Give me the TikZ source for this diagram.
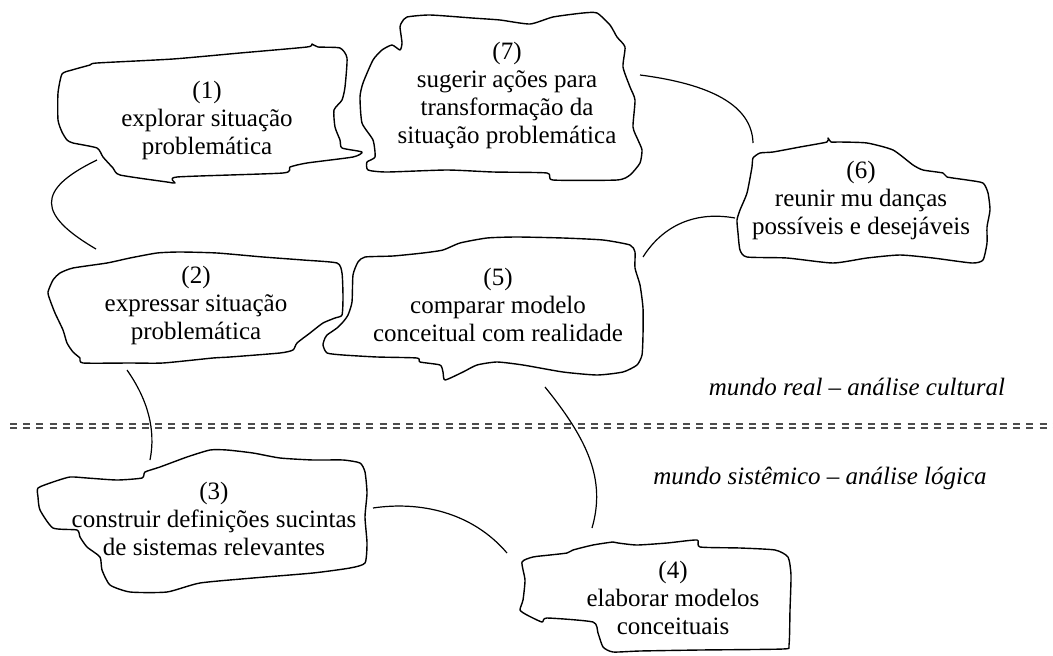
\documentclass[tikz,border=0pt]{standalone}
\usepackage{fontspec}
\setmainfont{Liberation Serif}
\begin{document}
\begin{tikzpicture}[x=1pt,y=-1pt,
  blob/.style={line width=1.4pt, line join=round, black},
  link/.style={line width=1.2pt, black},
  lbl/.style={align=center, font=\fontsize{25}{28}\selectfont, inner sep=0pt},
  world/.style={font=\fontsize{25}{30}\selectfont\itshape, inner sep=0pt},
  sepline/.style={line width=1.6pt, black!70, dash pattern=on 7pt off 6.2pt}]
\useasboundingbox (0,0) rectangle (1053,656);

% ---- blob outlines ----
% (1)
\draw[blob] plot[smooth cycle, tension=0.35] coordinates {
 (62,74) (72,70) (90,65) (97,63) (173,59) (240,53) (307,47) (312,44) (318,47)
 (340,48) (347,58) (345,87) (342,100) (334,110) (335,127) (340,140) (342,148)
 (362,152) (353,157) (307,163) (290,167) (283,173) (177,177) (175,183) (167,182)
 (120,175) (113,168) (103,157) (97,148) (73,143) (67,140) (62,132) (58,120) (58,93)};
% (7)
\draw[blob] plot[smooth cycle, tension=0.35] coordinates {
 (402,22) (407,17) (430,15) (472,18) (500,20) (530,24) (553,17) (583,13) (597,13)
 (610,25) (617,37) (625,47) (623,67) (630,87) (635,100) (633,127) (638,140)
 (642,150) (640,163) (630,175) (617,180) (553,180) (547,173) (493,172) (447,170)
 (387,172) (368,170) (367,162) (375,157) (373,140) (362,123) (360,97) (363,83)
 (373,60) (382,50) (392,45) (400,50) (402,43) (400,27)};
% (6)
\draw[blob] plot[smooth cycle, tension=0.35] coordinates {
 (753,158) (760,153) (773,152) (800,147) (827,142) (828,138) (831,142) (840,142)
 (867,143) (893,150) (913,165) (923,170) (943,173) (947,177) (967,180) (983,183)
 (988,193) (990,210) (987,227) (987,243) (983,260) (972,263) (933,258) (900,255)
 (867,258) (833,263) (787,258) (747,257) (740,250) (738,233) (737,220) (740,210)
 (747,193) (752,167)};
% (2)
\draw[blob] plot[smooth cycle, tension=0.35] coordinates {
 (48,292) (53,280) (60,273) (73,268) (107,263) (130,258) (157,253) (180,252)
 (217,253) (263,257) (303,260) (337,263) (342,273) (343,297) (342,315) (335,318)
 (323,323) (310,333) (297,343) (293,350) (280,353) (230,357) (213,358) (163,363)
 (130,363) (83,363) (80,358) (73,352) (67,343) (63,330) (55,313) (50,300)};
% (5)
\draw[blob] plot[smooth cycle, tension=0.35] coordinates {
 (325,338) (327,335) (337,328) (343,322) (348,315) (352,302) (353,275) (358,262)
 (365,257) (393,256) (423,253) (443,250) (460,243) (487,238) (517,237) (563,238)
 (603,240) (630,245) (635,252) (635,268) (640,285) (643,308) (643,335) (642,355)
 (637,365) (623,372) (597,375) (563,372) (523,365) (497,362) (477,365) (463,372)
 (445,380) (443,372) (440,365) (420,362) (417,358) (377,357) (343,355) (327,353)
 (323,345)};
% (3)
\draw[blob] plot[smooth cycle, tension=0.35] coordinates {
 (38,488) (53,482) (70,477) (87,478) (117,480) (142,478) (145,472) (160,467)
 (187,457) (210,450) (227,450) (253,453) (280,458) (313,460) (343,460) (360,463)
 (365,472) (367,493) (365,517) (367,543) (365,563) (350,568) (313,573) (253,578)
 (200,583) (167,592) (130,592) (110,585) (102,570) (100,557) (87,547) (80,537)
 (77,530) (53,528) (40,510) (38,497)};
% (4)
\draw[blob] plot[smooth cycle, tension=0.35] coordinates {
 (522,562) (533,557) (550,555) (567,553) (573,550) (593,545) (613,542) (618,543)
 (637,545) (667,543) (697,540) (700,547) (740,548) (775,550) (788,557) (791,575)
 (790,610) (789,645) (783,649) (700,650) (640,651) (613,652) (603,647) (598,633)
 (593,622) (547,618) (542,622) (527,615) (520,610) (523,600) (525,580)};

% ---- texts ----
\node[lbl] (n1) at (207,120) {(1)\\explorar situação\\problemática};
\node[lbl] (n7) at (507,95) {(7)\\sugerir ações para\\transformação da\\situação problemática};
\node[lbl] (n6) at (861,200) {(6)\\reunir mu danças\\possíveis e desejáveis};
\node[lbl] (n2) at (196,305) {(2)\\expressar situação\\problemática};
\node[lbl] (n5) at (498,305) {(5)\\comparar modelo\\conceitual com realidade};
\node[lbl] (n3) at (214,519) {(3)\\construir definições sucintas\\de sistemas relevantes};
\node[lbl] (n4) at (673,598) {(4)\\elaborar modelos\\conceituais};

\node[world] (wr) at (857,387) {mundo real – análise cultural};
\node[world] (ws) at (820,478) {mundo sistêmico – análise lógica};

% ---- separator ----
\coordinate (sepL1) at (10,424);
\coordinate (sepR1) at (1053,424);
\coordinate (sepL2) at (10,428);
\coordinate (sepR2) at (1053,428);
\draw[sepline] (sepL1) -- (sepR1);
\draw[sepline] (sepL2) -- (sepR2);

% ---- connector end points ----
\coordinate (c12a) at (97,160);
\coordinate (c12b) at (96,249);
\coordinate (c23a) at (127,370);
\coordinate (c23b) at (150,460);
\coordinate (c34a) at (373,508);
\coordinate (c34b) at (507,553);
\coordinate (c45a) at (592,528);
\coordinate (c45b) at (545,387);
\coordinate (c56a) at (643,257);
\coordinate (c56b) at (735,218);
\coordinate (c67a) at (753,143);
\coordinate (c67b) at (640,75);

% ---- connectors ----
\draw[link] (c12a) .. controls (35,190) and (38,215) .. (c12b);
\draw[link] (c23a) .. controls (148,400) and (156,430) .. (c23b);
\draw[link] (c34a) .. controls (420,501) and (472,512) .. (c34b);
\draw[link] (c45b) .. controls (588,440) and (606,480) .. (c45a);
\draw[link] (c56a) .. controls (660,230) and (690,210) .. (c56b);
\draw[link] (c67b) .. controls (710,84) and (752,105) .. (c67a);
\end{tikzpicture}
\end{document}
